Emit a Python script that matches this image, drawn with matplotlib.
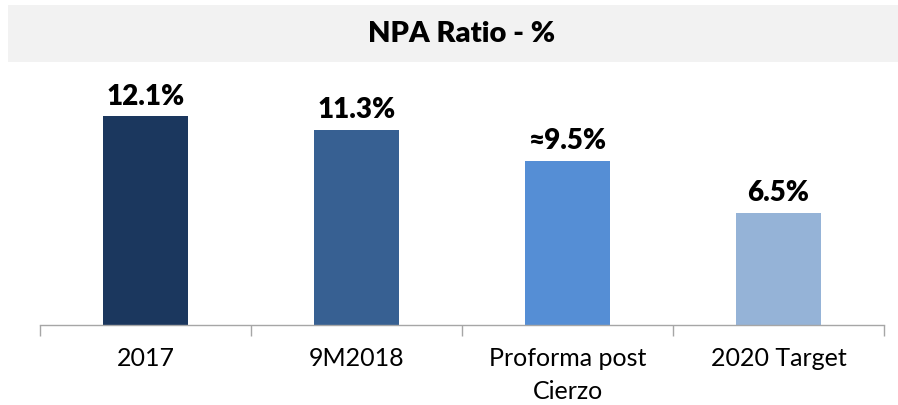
import matplotlib
matplotlib.use("Agg")
import matplotlib.pyplot as plt
from matplotlib.patches import Rectangle

# data
categories = ["2017", "9M2018", "Proforma post\nCierzo", "2020 Target"]
npa_ratio = [12.1, 11.3, 9.5, 6.5]
value_labels = ["12.1%", "11.3%", "≈9.5%", "6.5%"]
bar_colors = ["#1B375E", "#376092", "#558ED5", "#95B3D7"]

plt.rcParams['font.family'] = ['Lato', 'DejaVu Sans']

fig = plt.figure(figsize=(8.98, 4.05), dpi=100)
ax = fig.add_axes([0.0445, 0.1975, 0.94, 0.60])

# grey title band
fig.patches.append(Rectangle((8 / 898, (405 - 62) / 405), 1 - 8 / 898, 57 / 405,
                             transform=fig.transFigure, facecolor="#F2F2F2",
                             edgecolor="none", zorder=0))
fig.text(0.514, (405 - 34) / 405, "NPA Ratio - %", ha="center", va="center",
         fontsize=21, fontweight="heavy", color="black")

x = range(len(categories))
ax.bar(x, npa_ratio, width=0.40, color=bar_colors, zorder=2)

for xi, v, lab in zip(x, npa_ratio, value_labels):
    ax.annotate(lab, (xi, v), xytext=(0, 5), textcoords="offset points",
                ha="center", va="bottom", fontsize=20, fontweight="heavy")

ax.set_xlim(-0.5, len(categories) - 0.5)
ax.set_ylim(0, 14.1)

for s in ["top", "right", "left"]:
    ax.spines[s].set_visible(False)
ax.spines["bottom"].set_color("#A6A6A6")
ax.spines["bottom"].set_linewidth(1)

ax.set_yticks([])
ax.set_xticks(list(x))
ax.set_xticklabels(categories, fontsize=18, linespacing=1.5, va="top")
ax.tick_params(axis="x", which="major", length=0, pad=16)
ax.set_xticks([i - 0.5 for i in range(len(categories) + 1)], minor=True)
ax.tick_params(axis="x", which="minor", length=8, color="#A6A6A6", width=1)

fig.savefig("out.png", dpi=100)
